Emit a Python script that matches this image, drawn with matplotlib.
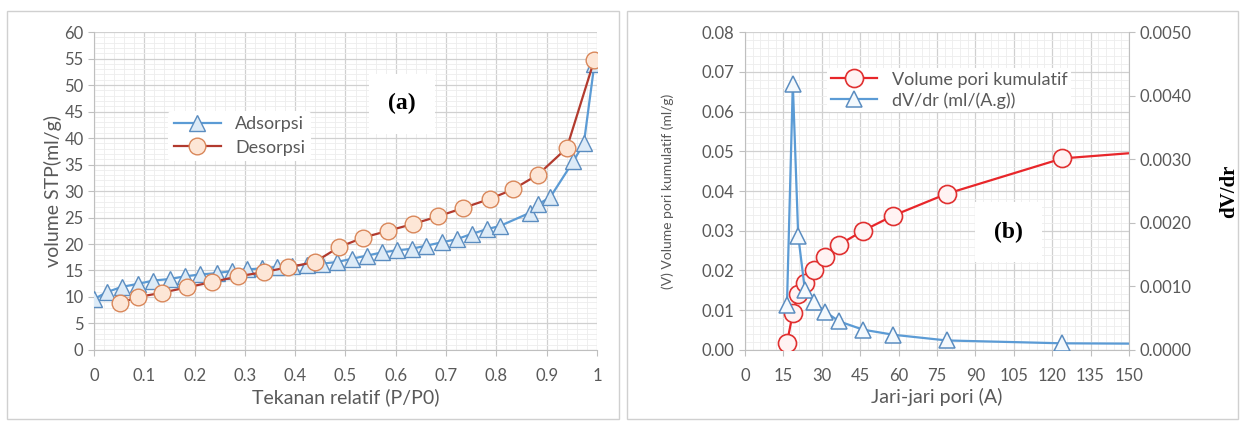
import numpy as np
from matplotlib import pyplot as plt
from matplotlib.patches import Rectangle
from matplotlib.ticker import MultipleLocator, AutoMinorLocator

# panel (a): isotherm
ads_p = [0.0, 0.025, 0.055, 0.088, 0.118, 0.151, 0.181, 0.211, 0.244, 0.274,
         0.304, 0.334, 0.364, 0.394, 0.424, 0.454, 0.483, 0.512, 0.542, 0.572,
         0.602, 0.632, 0.661, 0.691, 0.721, 0.751, 0.781, 0.807, 0.867, 0.883,
         0.907, 0.953, 0.974, 0.995]
ads_v = [9.6, 10.9, 11.9, 12.5, 13.1, 13.4, 13.9, 14.25, 14.5, 14.9,
         15.2, 15.4, 15.7, 15.9, 16.1, 16.3, 16.6, 17.2, 17.8, 18.4,
         18.8, 19.1, 19.7, 20.3, 20.9, 21.9, 22.8, 23.4, 25.9, 27.5,
         28.8, 35.6, 39.0, 54.0]
des_p = [0.052, 0.088, 0.135, 0.184, 0.234, 0.287, 0.337, 0.386, 0.439, 0.487,
         0.535, 0.585, 0.635, 0.684, 0.734, 0.787, 0.833, 0.883, 0.940, 0.995]
des_v = [8.9, 10.0, 10.8, 11.8, 12.8, 13.9, 14.7, 15.6, 16.6, 19.4,
         21.2, 22.5, 23.8, 25.2, 26.8, 28.5, 30.3, 33.1, 38.1, 54.8]
xt_a = [0, 0.1, 0.2, 0.3, 0.4, 0.5, 0.6, 0.7, 0.8, 0.9, 1.0]
xt_a_lbl = ['0', '0.1', '0.2', '0.3', '0.4', '0.5', '0.6', '0.7', '0.8', '0.9', '1']

# panel (b): pore distribution
r_pori = [16.4, 18.7, 20.8, 23.4, 27.1, 31.4, 36.8, 46.1, 57.9, 78.8, 124.0, 150.0]
v_kum = [0.0017, 0.0093, 0.0142, 0.0168, 0.0200, 0.0233, 0.0265, 0.0300,
         0.0338, 0.0393, 0.0482, 0.0495]
dvdr = [0.00070, 0.00418, 0.00180, 0.00095, 0.00075, 0.00060, 0.00045,
        0.00032, 0.00024, 0.00015, 0.000105, 0.00010]
n_mark = 11  # last point is the line end at the axis edge, no marker

grey = '#595959'
plt.rcParams['font.family'] = ['Lato', 'DejaVu Sans']

fig = plt.figure(figsize=(12.47, 4.23), dpi=100)

# chart area borders
for x0 in [0.006, 0.503]:
    fig.patches.append(Rectangle((x0, 0.01), 0.49, 0.965, transform=fig.transFigure,
                                 fill=False, edgecolor='#D0D0D0', lw=1))


def style_grid(ax):
    ax.grid(which='major', color='#D0D0D0', lw=0.9)
    ax.grid(which='minor', color='#EDEDED', lw=0.6)
    ax.set_axisbelow(True)
    for s in ['top', 'right']:
        ax.spines[s].set_visible(False)
    for s in ['left', 'bottom']:
        ax.spines[s].set_color('#BFBFBF')
    ax.tick_params(which='major', colors='#BFBFBF', labelcolor=grey, labelsize=12, length=4)
    ax.tick_params(axis='x', which='major', pad=9)
    ax.tick_params(which='minor', length=0)


# ---- (a)
ax1 = fig.add_axes([0.0754, 0.1726, 0.4033, 0.7517])
ax1.plot(ads_p, ads_v, color='#5B9BD5', lw=1.6, marker='^', markersize=11,
         markerfacecolor='#DDEBF7', markeredgecolor='#5B8DC0', markeredgewidth=1,
         label='Adsorpsi', zorder=3)
ax1.plot(des_p, des_v, color='#B23A2E', lw=1.6, marker='o', markersize=12,
         markerfacecolor='#FDE6D6', markeredgecolor='#D9875A', markeredgewidth=1,
         label='Desorpsi', zorder=4)
ax1.set_xlim(0, 1)
ax1.set_ylim(0, 60)
ax1.set_xticks(xt_a)
ax1.set_xticklabels(xt_a_lbl)
ax1.yaxis.set_major_locator(MultipleLocator(5))
ax1.xaxis.set_minor_locator(AutoMinorLocator(5))
ax1.yaxis.set_minor_locator(AutoMinorLocator(5))
style_grid(ax1)
ax1.set_xlabel('Tekanan relatif (P/P0)', fontsize=14, color=grey, labelpad=3)
ax1.set_ylabel('volume STP(ml/g)', fontsize=14, color=grey, labelpad=2)
leg1 = ax1.legend(loc='upper left', bbox_to_anchor=(0.13, 0.78), fontsize=13,
                  frameon=True, framealpha=1, edgecolor='none', facecolor='white',
                  handlelength=2.6, borderpad=0.3, labelspacing=0.4)
for t in leg1.get_texts():
    t.set_color(grey)
ax1.text(0.613, 46.5, '(a)', fontsize=17, fontweight='bold', family='Liberation Serif',
         ha='center', va='center', zorder=5,
         bbox=dict(facecolor='white', edgecolor='none', pad=14))

# ---- (b)
ax2 = fig.add_axes([0.5974, 0.1726, 0.3079, 0.7517])
ax2.plot(r_pori, v_kum, color='#E8262A', lw=1.6, marker='o', markersize=13,
         markerfacecolor='#FFF3F3', markeredgecolor='#E03030', markeredgewidth=1.2,
         markevery=list(range(n_mark)), label='Volume pori kumulatif', zorder=3)
ax2.set_xlim(0, 150)
ax2.set_ylim(0, 0.08)
ax2.xaxis.set_major_locator(MultipleLocator(15))
ax2.yaxis.set_major_locator(MultipleLocator(0.01))
ax2.yaxis.set_major_formatter(plt.FormatStrFormatter('%.2f'))
ax2.xaxis.set_minor_locator(AutoMinorLocator(5))
ax2.yaxis.set_minor_locator(AutoMinorLocator(5))
style_grid(ax2)
ax2.set_xlabel('Jari-jari pori (A)', fontsize=14, color=grey, labelpad=3)
ax2.set_ylabel('(V) Volume pori kumulatif (ml/g)', fontsize=10, color=grey, labelpad=20)

ax3 = ax2.twinx()
ax3.plot(r_pori, dvdr, color='#5B9BD5', lw=1.6, marker='^', markersize=12,
         markerfacecolor='#F4F9FD', markeredgecolor='#5B8DC0', markeredgewidth=1.1,
         markevery=list(range(n_mark)), label='dV/dr (ml/(A.g))', zorder=3)
ax3.set_ylim(0, 0.005)
ax3.yaxis.set_major_locator(MultipleLocator(0.001))
ax3.yaxis.set_major_formatter(plt.FormatStrFormatter('%.4f'))
for s in ['top', 'left', 'bottom']:
    ax3.spines[s].set_visible(False)
ax3.spines['right'].set_color('#BFBFBF')
ax3.tick_params(colors='#BFBFBF', labelcolor=grey, labelsize=12, length=4)
ax3.set_ylabel('dV/dr', fontsize=15, fontweight='bold', family='Liberation Serif',
               rotation=90, labelpad=20)

h1, l1 = ax2.get_legend_handles_labels()
h2, l2 = ax3.get_legend_handles_labels()
leg2 = ax3.legend(h1 + h2, l1 + l2, loc='upper left', bbox_to_anchor=(0.19, 0.915),
                  fontsize=13, frameon=True, framealpha=1, edgecolor='none',
                  facecolor='white', handlelength=2.6, borderpad=0.2, labelspacing=0.25)
for t in leg2.get_texts():
    t.set_color(grey)
ax3.text(103, 0.00185, '(b)', fontsize=17, fontweight='bold', family='Liberation Serif',
         ha='center', va='center', zorder=5,
         bbox=dict(facecolor='white', edgecolor='none', pad=14))

plt.savefig('out.png', dpi=100)
